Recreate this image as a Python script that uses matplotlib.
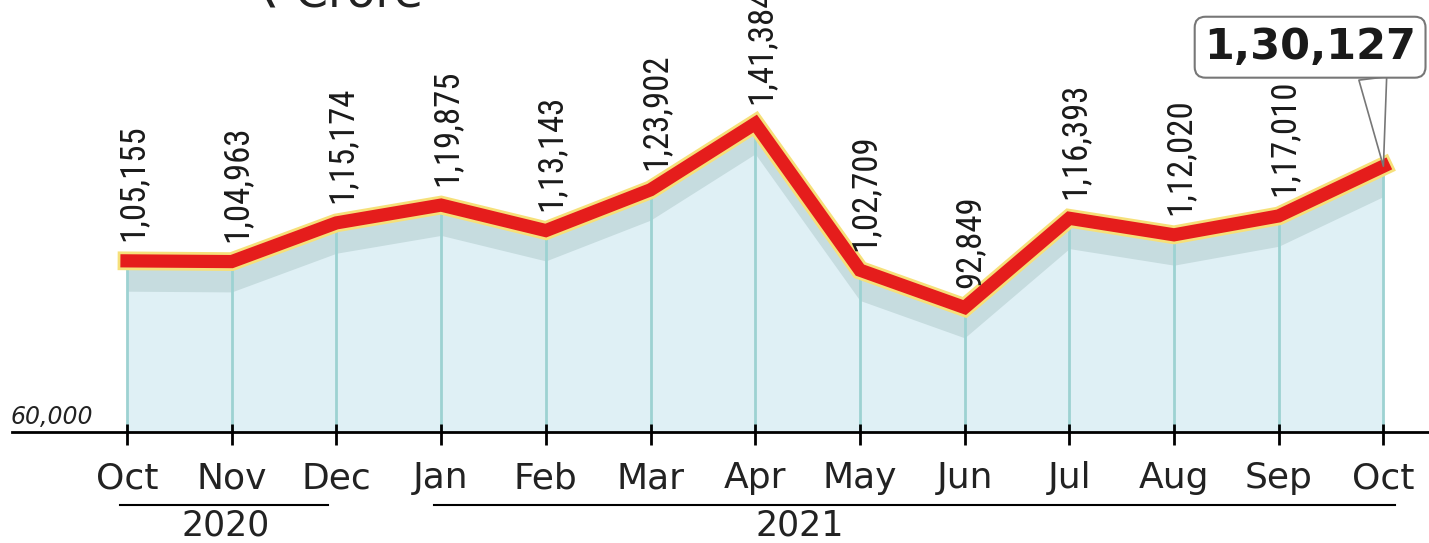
import numpy as np
import matplotlib.pyplot as plt
import matplotlib.patheffects as pe

months = ['Oct', 'Nov', 'Dec', 'Jan', 'Feb', 'Mar', 'Apr', 'May', 'Jun', 'Jul', 'Aug', 'Sep', 'Oct']
values = [105155, 104963, 115174, 119875, 113143, 123902, 141384, 102709, 92849, 116393, 112020, 117010, 130127]
labels = ['1,05,155', '1,04,963', '1,15,174', '1,19,875', '1,13,143', '1,23,902', '1,41,384',
          '1,02,709', '92,849', '1,16,393', '1,12,020', '1,17,010']
last_label = '1,30,127'
base = 60000
years = ['2020', '2021']
year_spans = [(0, 2), (3, 12)]
year_centers = [0.94, 6.43]

W, H = 1429, 543
fig = plt.figure(figsize=(W / 100, H / 100), dpi=100)
ax = fig.add_axes([0, 0, 1, 1])

# pixel mapping: Oct'20 at x=127, step ~104.7px ; 60,000 at y=432, 3.79px per 1000
step = 104.7
x0 = 127
ppk = 3.79
ax.set_xlim(-x0 / step, (W - x0) / step)
ax.set_ylim(base - (H - 432) / ppk * 1000, base + 432 / ppk * 1000)
ax.axis('off')

x = np.arange(len(values))
y = np.array(values)

# light fill + shadow band under the line
ax.fill_between(x, base, y, color='#dff0f5', lw=0, zorder=1)
ax.fill_between(x, y - 8000, y, color='#c6dcdf', lw=0, zorder=2)
ax.vlines(x, base, y - 800, color='#9dd2d2', lw=2, zorder=3)

# red line with yellow glow
ax.plot(x, y, color='#e51d1c', lw=9.5, solid_joinstyle='miter', zorder=5,
        path_effects=[pe.Stroke(linewidth=13.5, foreground='#f6e07a'), pe.Normal()])

# baseline axis and ticks
ax.plot([-1.1, 12.5], [base, base], color='black', lw=2, zorder=6, clip_on=False)
ax.vlines(x, base - 3500, base + 2000, color='black', lw=2, zorder=6)
ax.text(-1.11, base + 800, '60,000', fontsize=17, style='italic', ha='left', va='bottom', color='#222222')

# value labels
for i, lab in enumerate(labels):
    ax.annotate(lab, (x[i], y[i]), xytext=(4, 14), textcoords='offset points',
                rotation=90, ha='center', va='bottom', fontsize=25,
                family=['Roboto Condensed', 'Roboto', 'DejaVu Sans'], color='#1a1a1a', zorder=7)

# callout for latest month
ax.annotate(last_label, (x[-1], y[-1]), xytext=(11.3, y[-1] + 31400),
            ha='center', va='center', fontsize=31, fontweight='bold', color='#1a1a1a',
            bbox=dict(boxstyle='round,pad=0.22,rounding_size=0.25', fc='white', ec='#777777', lw=1.5),
            arrowprops=dict(arrowstyle='wedge,tail_width=0.65', fc='white', ec='#777777', lw=1.2,
                            shrinkA=0, shrinkB=0, relpos=(0.79, 0.0)),
            zorder=8)

# month labels
for i, m in enumerate(months):
    ax.text(x[i], base - 12200, m, ha='center', va='center', fontsize=26, color='#222222')

# year spans
for yr, (a, b), c in zip(years, year_spans, year_centers):
    ax.plot([a - 0.07, b - 0.08 if a == 0 else b + 0.11], [base - 19200, base - 19200],
            color='black', lw=1.5, clip_on=False)
    ax.text(c, base - 24800, yr, ha='center', va='center', fontsize=25, color='#222222')

fig.text(250 / W, 1 - 7 / H, '\u20b9 Crore', fontsize=34, ha='left', va='baseline', color='#222222')

fig.savefig('out.png', dpi=100, facecolor='white')
